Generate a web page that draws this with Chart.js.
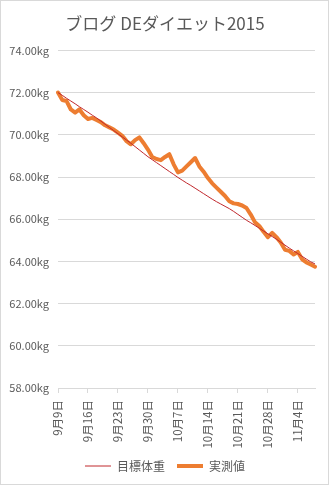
<!DOCTYPE html>
<html lang="ja">
<head>
<meta charset="utf-8">
<title>ブログ DEダイエット2015</title>
<script src="https://cdn.jsdelivr.net/npm/chart.js@4.4.1/dist/chart.umd.min.js"></script>
<style>
  html, body { margin: 0; padding: 0; background: #fff; }
  .chart-box { width: 327px; height: 483px; border: 1px solid #d9d9d9; }
</style>
</head>
<body>
<div class="chart-box"><canvas id="dietChart" width="327" height="483"></canvas></div>
<script>
/* ============================================
   ブログ DEダイエット2015 — weight chart
   ============================================ */

const dates = [
  '9月9日', '9月10日', '9月11日', '9月12日', '9月13日', '9月14日', '9月15日',
  '9月16日', '9月17日', '9月18日', '9月19日', '9月20日', '9月21日', '9月22日',
  '9月23日', '9月24日', '9月25日', '9月26日', '9月27日', '9月28日', '9月29日',
  '9月30日', '10月1日', '10月2日', '10月3日', '10月4日', '10月5日', '10月6日',
  '10月7日', '10月8日', '10月9日', '10月10日', '10月11日', '10月12日', '10月13日',
  '10月14日', '10月15日', '10月16日', '10月17日', '10月18日', '10月19日', '10月20日',
  '10月21日', '10月22日', '10月23日', '10月24日', '10月25日', '10月26日', '10月27日',
  '10月28日', '10月29日', '10月30日', '10月31日', '11月1日', '11月2日', '11月3日',
  '11月4日', '11月5日', '11月6日', '11月7日', '11月8日'
];

// 目標体重 (kg)
const targetWeight = [
  72.00, 71.87, 71.73, 71.60, 71.47, 71.33, 71.20, 71.07, 70.93, 70.80,
  70.65, 70.50, 70.35, 70.20, 70.05, 69.90, 69.75, 69.60, 69.44, 69.28,
  69.12, 68.96, 68.82, 68.68, 68.54, 68.40, 68.26, 68.12, 67.98, 67.85,
  67.72, 67.60, 67.47, 67.34, 67.21, 67.08, 66.95, 66.83, 66.72, 66.61,
  66.50, 66.37, 66.23, 66.09, 65.95, 65.83, 65.70, 65.57, 65.44, 65.31,
  65.18, 65.05, 64.91, 64.77, 64.63, 64.50, 64.37, 64.24, 64.11, 63.98,
  63.88
];

// 実測値 (kg)
const measuredWeight = [
  72.00, 71.65, 71.60, 71.20, 71.05, 71.20, 70.93, 70.75, 70.80, 70.70,
  70.60, 70.45, 70.35, 70.25, 70.10, 69.95, 69.70, 69.55, 69.75, 69.88,
  69.60, 69.30, 68.95, 68.85, 68.80, 68.95, 69.08, 68.60, 68.22, 68.30,
  68.50, 68.70, 68.90, 68.50, 68.25, 67.95, 67.70, 67.50, 67.30, 67.10,
  66.85, 66.75, 66.72, 66.65, 66.53, 66.22, 65.85, 65.68, 65.40, 65.15,
  65.35, 65.15, 64.90, 64.55, 64.50, 64.33, 64.45, 64.10, 63.95, 63.85,
  63.75
];

const yMin = 58;
const yMax = 74;
const yStep = 2;
const tickEvery = 7;

const FONT = '"Noto Sans CJK JP", "Noto Sans", sans-serif';
const TEXT_COLOR = '#595959';

// title + legend get centred on the padded box, nudge them back to the frame centre
const centreNudge = {
  id: 'centreNudge',
  afterLayout(chart) {
    [chart.legend, chart.titleBlock].forEach(box => {
      if (!box) return;
      box.left += 7;
      box.right += 7;
    });
  }
};

const DietChart = {
  chart: null,

  init() {
    const ctx = document.getElementById('dietChart');
    this.chart = new Chart(ctx, {
      type: 'line',
      data: {
        labels: dates,
        datasets: [
          {
            label: '目標体重',
            data: targetWeight,
            borderColor: '#c0282d',
            borderWidth: 1,
            pointRadius: 0,
            tension: 0
          },
          {
            label: '実測値',
            data: measuredWeight,
            borderColor: '#ed7d31',
            borderWidth: 4,
            borderJoinStyle: 'round',
            borderCapStyle: 'round',
            pointRadius: 0,
            tension: 0
          }
        ]
      },
      options: {
        responsive: false,
        animation: false,
        layout: { padding: { left: 0, right: 13, top: 0, bottom: 2 } },
        plugins: {
          title: {
            display: true,
            text: 'ブログ DEダイエット2015',
            color: TEXT_COLOR,
            font: { family: FONT, size: 17, weight: 'normal' },
            padding: { top: 12, bottom: 17 }
          },
          legend: {
            position: 'bottom',
            labels: {
              color: TEXT_COLOR,
              font: { family: FONT, size: 12 },
              usePointStyle: true,
              pointStyle: 'line',
              pointStyleWidth: 26,
              padding: 12
            }
          },
          tooltip: { enabled: false }
        },
        scales: {
          x: {
            offset: false,
            afterFit: scale => {
              scale.height = 60;
              // rotated labels should not eat into the right margin
              scale.paddingLeft = 0;
              scale.paddingRight = 0;
            },
            border: { display: true, color: '#d9d9d9' },
            grid: {
              drawOnChartArea: false,
              drawTicks: true,
              tickLength: 5,
              color: c => (c.index % tickEvery === 0 ? '#d9d9d9' : 'rgba(0,0,0,0)')
            },
            ticks: {
              autoSkip: false,
              minRotation: 90,
              maxRotation: 90,
              padding: 7,
              color: TEXT_COLOR,
              font: { family: FONT, size: 11.5 },
              callback: (v, i) => (i % tickEvery === 0 ? dates[i] : '')
            }
          },
          y: {
            min: yMin,
            max: yMax,
            afterFit: scale => { scale.width = 57; },
            border: { display: false },
            grid: { color: '#d9d9d9', drawTicks: false },
            ticks: {
              stepSize: yStep,
              padding: 9,
              color: TEXT_COLOR,
              font: { family: FONT, size: 11 },
              callback: v => v.toFixed(2) + 'kg'
            }
          }
        }
      },
      plugins: [centreNudge]
    });
  }
};

DietChart.init();
</script>
</body>
</html>
